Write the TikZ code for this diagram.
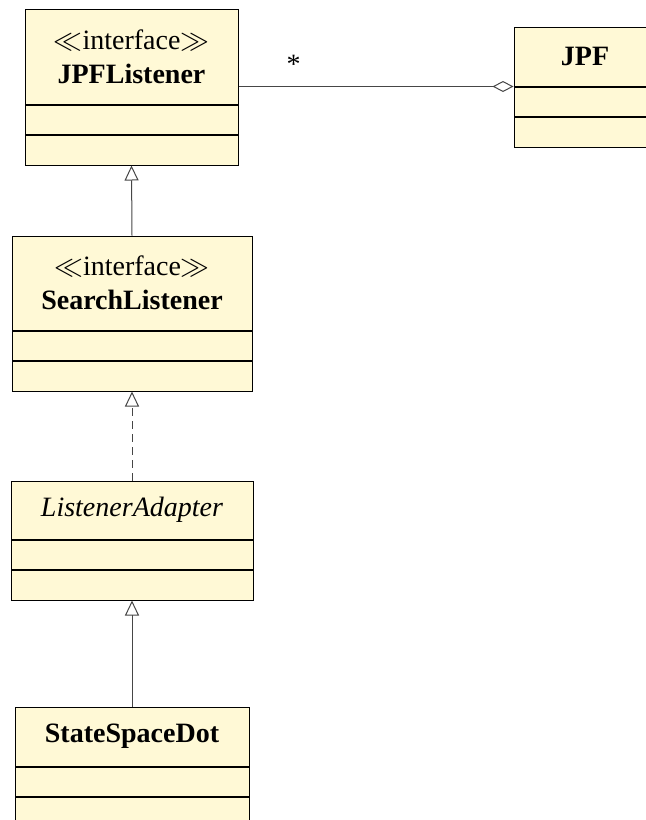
\documentclass[tikz,border=0pt]{standalone}
\usepackage{fontspec}
\setmainfont{Liberation Serif}
\usepackage{xcolor}
\usetikzlibrary{arrows.meta, positioning}
\definecolor{classfill}{RGB}{255,249,214}
\definecolor{linkgray}{RGB}{70,70,70}

\tikzset{
  classname/.style={draw, fill=classfill, inner sep=0pt, align=center, minimum width=#1},
  classpart/.style={draw, fill=classfill, inner sep=0pt, minimum width=#1, minimum height=14.75pt},
  inherit/.style={draw=linkgray, -{Triangle[open, length=7.5pt, width=7pt]}},
  realize/.style={inherit, dash pattern=on 4pt off 2.5pt},
  aggregate/.style={draw=linkgray, -{Diamond[open, length=10.5pt, width=5.5pt]}}
}

\begin{document}
\begin{tikzpicture}[x=0.5pt, y=-0.5pt, line width=0.5pt, font=\fontsize{14}{17}\selectfont]
    \useasboundingbox (0,0) rectangle (646,820);
    \clip (0,0) rectangle (646,820);

    % classes
    \node[classname=106.5pt, minimum height=47.5pt] (jplTitle) at (131.5,56.5) {$\ll$interface$\gg$\\\textbf{JPFListener}};
    \node[classpart=106.5pt, below=0pt of jplTitle] (jplAttr) {};
    \node[classpart=106.5pt, below=0pt of jplAttr] (jplOps) {};

    \node[classname=71pt, minimum height=29.5pt] (jpfTitle) at (585,56.5) {\textbf{JPF}};
    \node[classpart=71pt, below=0pt of jpfTitle] (jpfAttr) {};
    \node[classpart=71pt, below=0pt of jpfAttr] (jpfOps) {};

    \node[classname=120pt, minimum height=47pt] (slTitle) at (132,283) {$\ll$interface$\gg$\\\textbf{SearchListener}};
    \node[classpart=120pt, below=0pt of slTitle] (slAttr) {};
    \node[classpart=120pt, below=0pt of slAttr] (slOps) {};

    \node[classname=121pt, minimum height=29pt] (laTitle) at (132,510) {\textit{ListenerAdapter}};
    \node[classpart=121pt, below=0pt of laTitle] (laAttr) {};
    \node[classpart=121pt, below=0pt of laAttr] (laOps) {};

    \node[classname=117pt, minimum height=29.5pt] (ssdTitle) at (132,736.5) {\textbf{StateSpaceDot}};
    \node[classpart=117pt, below=0pt of ssdTitle] (ssdAttr) {};
    \node[classpart=117pt, below=0pt of ssdAttr] (ssdOps) {};

    % relations
    \draw[aggregate] (jplTitle.east |- jpfTitle.south west) -- node[pos=0.2, above=3pt] {*} (jpfTitle.south west);
    \draw[inherit] (slTitle.north) -- (jplOps.south);
    \draw[realize] (laTitle.north) -- (slOps.south);
    \draw[inherit] (ssdTitle.north) -- (laOps.south);
\end{tikzpicture}
\end{document}
